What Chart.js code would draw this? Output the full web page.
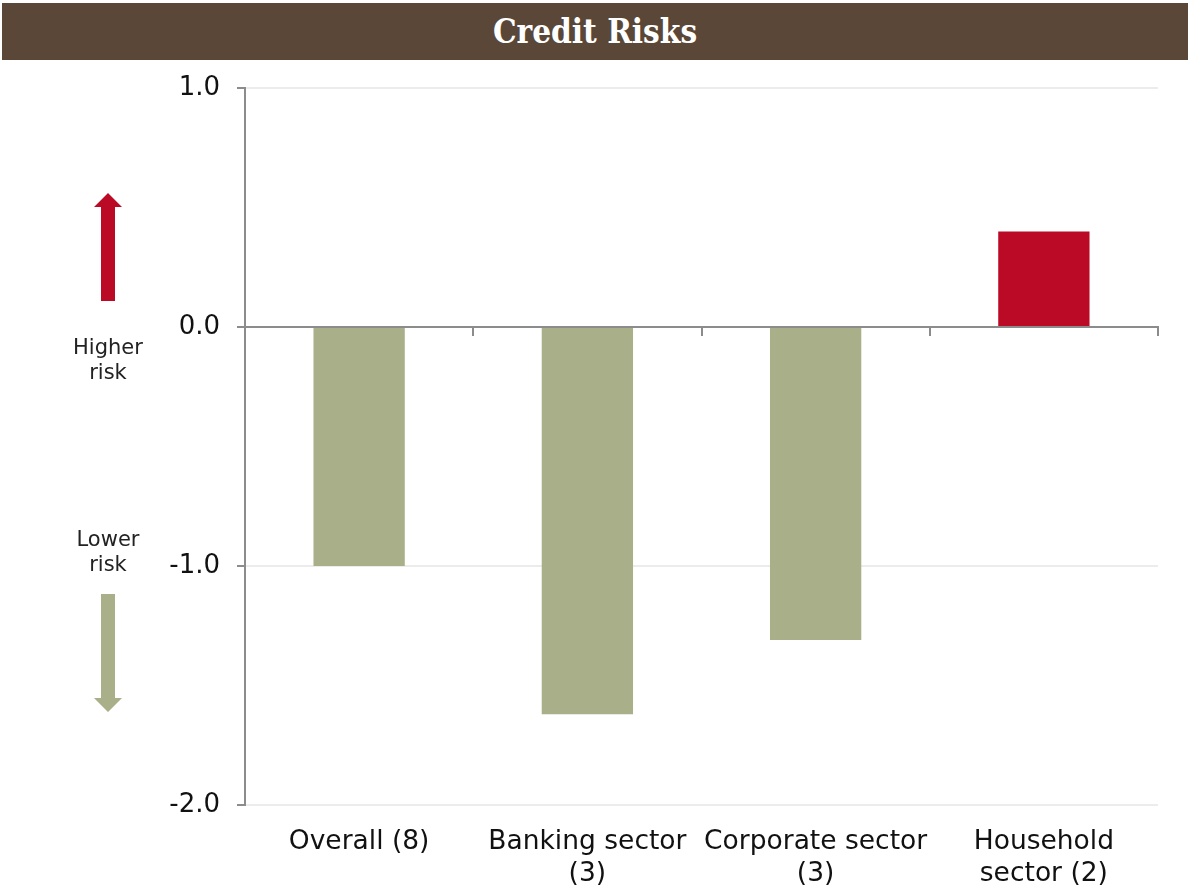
<!DOCTYPE html>
<html>
<head>
<meta charset="utf-8">
<script src="https://cdn.jsdelivr.net/npm/chart.js@4"></script>
<style>
  html, body { margin: 0; padding: 0; background: #ffffff; }
  #wrap { position: relative; width: 1192px; height: 893px; overflow: hidden; }
  #titlebar { position: absolute; left: 2px; top: 3px; width: 1186px; height: 57px; background: #5a4737;
    color: #ffffff; font-family: "DejaVu Serif Condensed", "DejaVu Serif", serif; font-stretch: condensed; font-weight: bold; font-size: 33px;
    line-height: 57px; text-align: center; }
  #chart { position: absolute; left: 0; top: 0; }
  .side { position: absolute; font-family: "DejaVu Sans", sans-serif; font-size: 21px; color: #222;
    text-align: center; width: 100px; line-height: 25px; }
  svg { position: absolute; left: 0; top: 0; }
</style>
</head>
<body>
<div id="wrap">
  <canvas id="chart" width="1192" height="893"></canvas>
  <div id="titlebar">Credit Risks</div>
  <div class="side" style="left:58px; top:335px;">Higher<br>risk</div>
  <div class="side" style="left:58px; top:527px;">Lower<br>risk</div>
  <svg width="1192" height="893">
    <polygon points="101,301 115,301 115,207 122,207 108,193 94,207 101,207" fill="#bb0a26"/>
    <polygon points="101,594 115,594 115,698 122,698 108,712 94,698 101,698" fill="#a9af88"/>
  </svg>
</div>
<script>
const categories = [["Overall (8)"], ["Banking sector", "(3)"], ["Corporate sector", "(3)"], ["Household", "sector (2)"]];
const values = [-1.0, -1.62, -1.31, 0.40];
const yTicks = [1.0, 0.0, -1.0, -2.0];

const colorUp = '#bb0a26';
const colorDown = '#a9af88';

const ctx = document.getElementById('chart').getContext('2d');
new Chart(ctx, {
  type: 'bar',
  data: {
    labels: categories,
    datasets: [{
      data: values,
      backgroundColor: values.map(v => v >= 0 ? colorUp : colorDown),
      borderWidth: 0,
      categoryPercentage: 1.0,
      barPercentage: 0.4,
      xAxisID: 'x'
    }]
  },
  options: {
    responsive: false,
    animation: false,
    events: [],
    layout: { padding: { top: 88, right: 34, bottom: 0, left: 0 } },
    plugins: { legend: { display: false }, tooltip: { enabled: false }, title: { display: false } },
    scales: {
      x: {
        type: 'category',
        position: 'bottom',
        offset: true,
        grid: { display: false, drawTicks: false },
        border: { display: false },
        ticks: {
          color: '#111',
          font: { family: 'DejaVu Sans', size: 26.5, lineHeight: 1.22 },
          padding: 21,
          maxRotation: 0,
          autoSkip: false
        },
        afterFit: s => { s.height = 88; }
      },
      xZero: {
        type: 'category',
        position: { y: 0 },
        offset: true,
        grid: { display: true, drawOnChartArea: false, drawTicks: true, tickLength: 8, offset: true, color: '#8c8c8c', lineWidth: 2 },
        border: { display: true, color: '#8c8c8c', width: 2 },
        ticks: { display: false }
      },
      y: {
        min: -2,
        max: 1,
        afterBuildTicks: s => { s.ticks = yTicks.map(v => ({ value: v })); },
        grid: {
          color: c => c.tick && c.tick.value === 0 ? 'rgba(0,0,0,0)' : '#ececec',
          lineWidth: 2,
          tickLength: 8,
          tickColor: '#8c8c8c'
        },
        border: { display: true, color: '#8c8c8c', width: 2 },
        ticks: {
          color: '#111',
          font: { family: 'DejaVu Sans', size: 26 },
          padding: 17,
          callback: v => Number(v).toFixed(1)
        },
        afterFit: s => { s.width = 245; }
      }
    }
  }
});
</script>
</body>
</html>
